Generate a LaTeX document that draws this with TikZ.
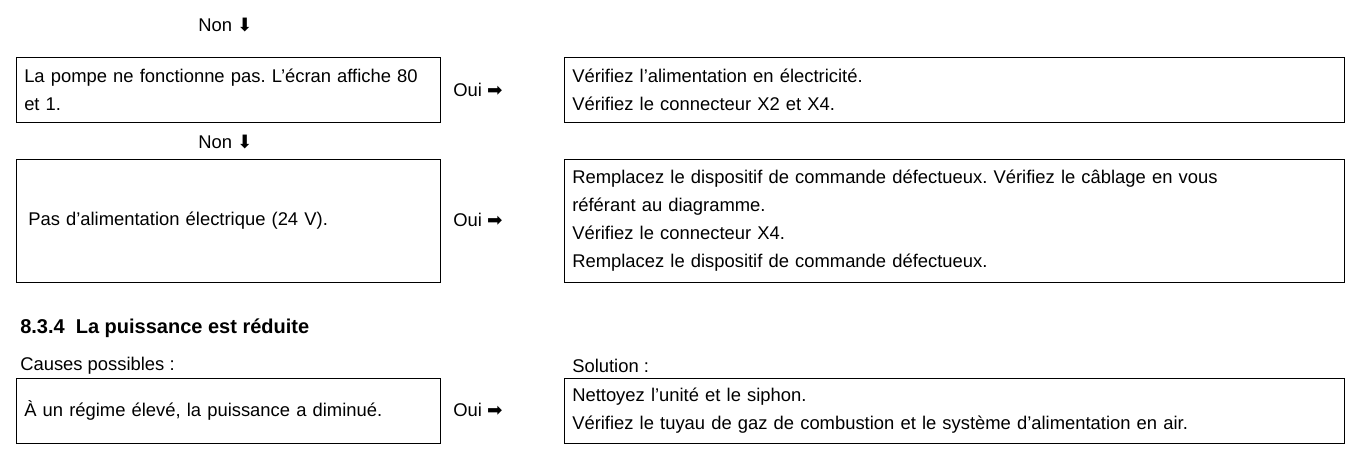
\documentclass[tikz,border=0pt]{standalone}
\usepackage{fontspec}
\setmainfont{Liberation Sans}
\newfontfamily\symfont{DejaVu Sans}
\usetikzlibrary{positioning}
\frenchspacing
\newcommand{\rarr}{{\symfont\char"27A1}}
\newcommand{\darr}{{\symfont\char"2B07}}
\newcommand{\ap}{\char"0027}
\tikzset{
box/.style={draw, thin, anchor=north west, inner xsep=6pt, inner ysep=0pt, align=left, font=\fontsize{13.8}{21}\selectfont}, % framed cell
lbl/.style={anchor=west, inner sep=0pt, font=\fontsize{13.8}{16}\selectfont}, % free text
}
\begin{document}
\begin{tikzpicture}[x=0.75pt,y=-0.75pt]
\useasboundingbox (0,0) rectangle (1353,454);

            \node[lbl] (n1) at (198,25) {Non \darr};
            \node[box, text width=306pt, minimum height=48.75pt] (c1) at (16,57) {La pompe ne fonctionne pas. L\ap écran affiche 80\\et 1.};
            \node[lbl] (o1) at (453,90) {Oui \rarr};
            \node[box, text width=573pt, minimum height=48.75pt] (s1) at (564,57) {Vérifiez l\ap alimentation en électricité.\\Vérifiez le connecteur X2 et X4.};

            \node[lbl] (n2) at (198,142) {Non \darr};
            \node[box, text width=306pt, minimum height=92.25pt] (c2) at (16,159) {\hspace{3pt}Pas d\ap alimentation électrique (24 V).};
            \node[lbl] (o2) at (453,220) {Oui \rarr};
            \node[box, text width=573pt, minimum height=92.25pt] (s2) at (564,159) {Remplacez le dispositif de commande défectueux. Vérifiez le câblage en vous\\référant au diagramme.\\Vérifiez le connecteur X4.\\Remplacez le dispositif de commande défectueux.};

            \node[lbl, font=\fontsize{15}{18}\selectfont\bfseries] (h) at (20,328) {8.3.4\ \ La puissance est réduite};
            \node[lbl] (cp) at (20,366) {Causes possibles :};
            \node[lbl] (so) at (572,366) {Solution :};
            \node[box, text width=306pt, minimum height=48.75pt] (c3) at (16,378) {À un régime élevé, la puissance a diminué.};
            \node[lbl] (o3) at (453,410) {Oui \rarr};
            \node[box, text width=573pt, minimum height=48.75pt] (s3) at (564,378) {Nettoyez l\ap unité et le siphon.\\Vérifiez le tuyau de gaz de combustion et le système d\ap alimentation en air.};
        \end{tikzpicture}
\end{document}
